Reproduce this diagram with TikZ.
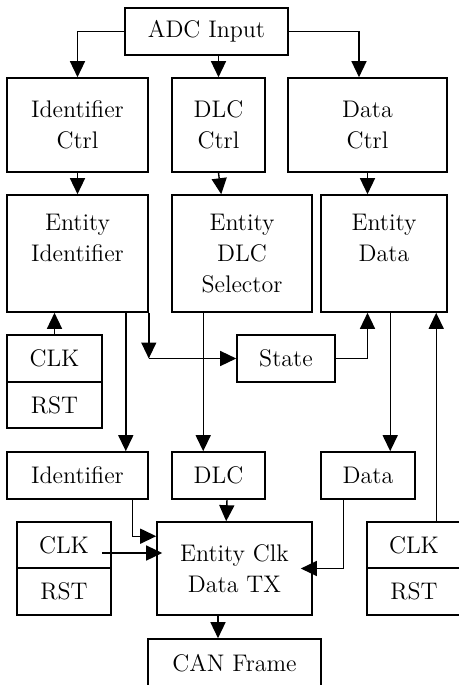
\documentclass[tikz,border=0pt]{standalone}
\usepackage{tikz}
\usetikzlibrary{arrows.meta,calc}

\tikzset{
  blk/.style={draw,line width=.8pt,inner sep=0pt,align=center,
    font=\rmfamily\fontsize{12}{15.5}\selectfont},
  conn/.style={line width=.7pt,-{Triangle[length=8pt,width=7.5pt]}}
}

\begin{document}
\begin{tikzpicture}[x=.5pt,y=-.5pt]
\path[use as bounding box] (0,0) rectangle (459,685);
% top row
\node[blk,minimum width=81.5pt,minimum height=23.5pt] (adc) at (206.5,31.5) {ADC Input};
\node[blk,minimum width=70.5pt,minimum height=47pt] (idctrl) at (77.5,125) {Identifier\\Ctrl};
\node[blk,minimum width=46.5pt,minimum height=47pt] (dlcctrl) at (218.5,125) {DLC\\Ctrl};
\node[blk,minimum width=79.5pt,minimum height=47pt] (datactrl) at (367.5,125) {Data\\Ctrl};
% entities
\node[blk,minimum width=70.5pt,minimum height=58.5pt] (entid) at (77.5,253.5) {Entity\\Identifier\\\mbox{}};
\node[blk,minimum width=70pt,minimum height=58.5pt] (entdlc) at (242,253.5) {Entity\\DLC\\Selector};
\node[blk,minimum width=63pt,minimum height=58.5pt] (entdata) at (384,253.5) {Entity\\Data\\\mbox{}};
\node[blk,minimum width=47.5pt,minimum height=23.5pt] (clka) at (54.5,358.5) {CLK};
\node[blk,minimum width=47.5pt,minimum height=23pt] (rsta) at (54.5,405) {RST};
\node[blk,minimum width=49pt,minimum height=23.5pt] (state) at (286,358.5) {State};
% outputs
\node[blk,minimum width=70.5pt,minimum height=23.5pt] (idout) at (77.5,475.5) {Identifier};
\node[blk,minimum width=46.5pt,minimum height=23.5pt] (dlcout) at (218.5,475.5) {DLC};
\node[blk,minimum width=47pt,minimum height=23.5pt] (dataout) at (368,475.5) {Data};
% transmitter
\node[blk,minimum width=47pt,minimum height=23pt] (clkb) at (64,545) {CLK};
\node[blk,minimum width=47pt,minimum height=23.5pt] (rstb) at (64,591.5) {RST};
\node[blk,minimum width=77.5pt,minimum height=46.5pt] (entclk) at (234.5,568.5) {Entity Clk\\Data TX};
\node[blk,minimum width=47pt,minimum height=23pt] (clkc) at (414,545) {CLK};
\node[blk,minimum width=47pt,minimum height=23.5pt] (rstc) at (414,591.5) {RST};
\node[blk,minimum width=86.5pt,minimum height=24pt] (canframe) at (234.5,663) {CAN Frame};

\draw[conn] (adc.west) -| (idctrl.north);
\draw[conn] (adc.south -| dlcctrl.north) -- (dlcctrl.north);
\draw[conn] (adc.east) -| ($(datactrl.north)+(-8.5,0)$);
\draw[conn] (idctrl.south) -- (entid.north);
\draw[conn] (dlcctrl.south) -- ($(entdlc.north west)+(50,0)$);
\draw[conn] (datactrl.south) -- (datactrl.south |- entdata.north);
\draw[conn] (clka.north) -- (clka.north |- entid.south);
\coordinate (split) at (entid.south east |- state.west);
\draw[conn] (entid.south east) -- (split);
\draw[conn] (split) -- (state.west);
\draw[conn] (state.east) -| (datactrl.south |- entdata.south);
\draw[conn] ($(entid.south east)+(-23,0)$) -- ($(idout.north east)+(-23,0)$);
\draw[conn] ($(entdlc.south west)+(32,0)$) -- ($(dlcout.north west)+(32,0)$);
\draw[conn] ($(entdata.south west)+(70,0)$) -- ($(dataout.north west)+(70,0)$);
\coordinate (rbus) at ($(clkc.north west)+(70,0)$);
\draw[conn] (rbus) -- (rbus |- entdata.south);
\draw[conn] ($(idout.south west)+(126,0)$) |- ($(entclk.north west)+(0,15)$);
\draw[conn] ($(clkb.east)+(-10,8)$) -- ($(clkb.east -| entclk.west)+(6,8)$);
\draw[conn] ($(dlcout.south)+(8.5,0)$) -- ($(entclk.north west)+(70,0)$);
\draw[conn] ($(dataout.south west)+(23,0)$) |- ($(entclk.east)+(-12,0)$);
\draw[conn] ($(entclk.south)+(-16.5,0)$) -- ($(canframe.north)+(-16.5,0)$);
\end{tikzpicture}
\end{document}
